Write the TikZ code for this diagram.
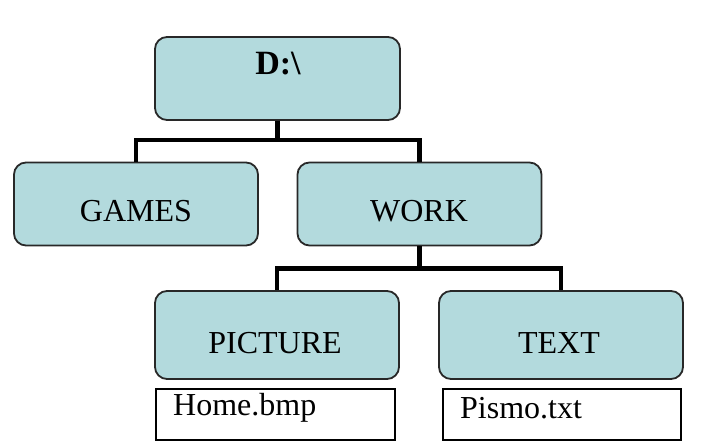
\documentclass[tikz,border=0pt]{standalone}
\usepackage{fontspec}
\setmainfont{Liberation Serif}
\definecolor{boxfill}{RGB}{179,218,221}
\definecolor{boxline}{RGB}{40,40,40}
\begin{document}
\begin{tikzpicture}[x=1pt,y=-1pt,
  box/.style={draw=boxline,line width=1.8pt,fill=boxfill,rounded corners=12pt,minimum width=244pt,minimum height=83pt,inner sep=0pt},
  filebox/.style={draw=black,line width=1.6pt,fill=white,minimum width=239pt,minimum height=51pt,inner sep=0pt},
  lbl/.style={font=\fontsize{32}{34}\selectfont,inner sep=0pt},
  conn/.style={line width=4.5pt,black}]
\useasboundingbox (0,0) rectangle (716,446);
\fill[white] (0,0) rectangle (716,446);
% boxes
\node[box,minimum width=245pt] (root) at (277.5,78.5) {};
\node[box] (games) at (136,204) {};
\node[box] (work) at (419.5,204) {};
\node[box,minimum height=88pt] (pic) at (277,335) {};
\node[box,minimum height=88pt] (txt) at (561,335) {};
\node[filebox] (home) at (275.5,414.5) {};
\node[filebox,minimum width=238pt] (pismo) at (562,414.5) {};
% labels
\node[lbl,font=\fontsize{34}{36}\selectfont\bfseries] (rootT) at (278,64) {D:\textbackslash};
\node[lbl] (gamesT) at (136,211) {GAMES};
\node[lbl] (workT) at (419,211) {WORK};
\node[lbl] (picT) at (275,343) {PICTURE};
\node[lbl] (txtT) at (559,343) {TEXT};
\node[lbl,anchor=west] (homeT) at (173,408) {Home.bmp};
\node[lbl,anchor=west] (pismoT) at (460,408) {Pismo.txt};
% connectors
\coordinate (j1) at (277.5,140);
\coordinate (j2) at (419.5,268.5);
\draw[conn] (root.south) -- (j1);
\draw[conn] (games.north) |- (j1) -| (work.north);
\draw[conn] (work.south) -- (j2);
\draw[conn] (pic.north) |- (j2) -| (txt.north);
\end{tikzpicture}
\end{document}
